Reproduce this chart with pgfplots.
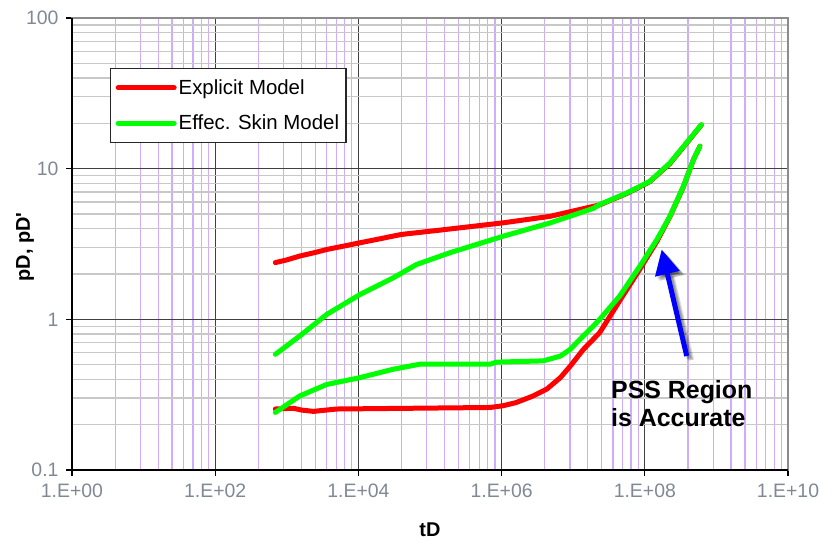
\documentclass[border=0pt]{standalone}
\usepackage{pgfplots}
\pgfplotsset{compat=1.18}
\usepackage{fontspec}
\setmainfont{Liberation Sans}
\usetikzlibrary{arrows.meta}

\definecolor{lavgrid}{RGB}{208,172,255}
\definecolor{ticktext}{RGB}{128,136,150}
\definecolor{lightgrid}{RGB}{200,200,200}
\definecolor{pssblue}{RGB}{0,0,255}

\tikzset{
  pssarrow/.style={line width=5bp, -{Triangle[width=24bp,length=25bp]}},
  psstext/.style={anchor=north west, align=left, inner sep=0pt,
    font=\bfseries\fontsize{25}{28}\selectfont},
  softshadow/.style={black, opacity=0.12},
}

\begin{document}
\begin{tikzpicture}
\begin{axis}[
  scale only axis, width=716bp, height=452bp,
  xmode=log, ymode=log,
  xmin=1, xmax=1e10, ymin=0.1, ymax=100,
  clip=false,
  xtick={1,1e2,1e4,1e6,1e8,1e10},
  xticklabels={1.E+00,1.E+02,1.E+04,1.E+06,1.E+08,1.E+10},
  ytick={0.1,1,10,100},
  yticklabels={0.1,1,10,100},
  minor xtick={4,9,16,25,36,49,64,81,
    400,900,1600,2500,3600,4900,6400,8100,
    4e4,9e4,1.6e5,2.5e5,3.6e5,4.9e5,6.4e5,8.1e5,
    4e6,9e6,1.6e7,2.5e7,3.6e7,4.9e7,6.4e7,8.1e7,
    4e8,9e8,1.6e9,2.5e9,3.6e9,4.9e9,6.4e9,8.1e9},
  minor ytick={0.2,0.3,0.4,0.5,0.6,0.7,0.8,0.9,
    2,3,4,5,6,7,8,9,20,30,40,50,60,70,80,90},
  grid=both,
  major grid style={black!75, line width=1.2bp},
  minor x grid style={lavgrid, line width=1.2bp},
  minor y grid style={lightgrid, line width=1.3bp},
  axis line style={black!45, line width=2bp},
  tick align=outside, xtick pos=left, ytick pos=left,
  major tick length=6bp, minor tick length=0bp,
  tick style={black, line width=1.3bp},
  ticklabel style={font=\fontsize{19.5}{20}\selectfont, text=ticktext},
  xticklabel style={yshift=-4bp},
  yticklabel style={xshift=-4bp},
  xlabel={tD}, ylabel={pD, pD\textquotesingle},
  xlabel style={font=\bfseries\fontsize{20}{22}\selectfont,
    at={(axis description cs:0.5,-0.1327)}, anchor=center},
  ylabel style={font=\bfseries\fontsize{20}{22}\selectfont,
    at={(axis description cs:-0.0656,0.494)}, anchor=center},
  legend cell align=left,
  legend style={at={(axis description cs:0.0531,0.8894)}, anchor=north west,
    draw=black!85, line width=1.3bp, fill=white,
    font=\fontsize{20.5}{21}\selectfont, text=black,
    inner xsep=5bp, inner ysep=9bp, row sep=15bp},
  legend image code/.code={\draw[#1, line width=5bp, line cap=round]
    (0bp,0bp) -- (56bp,0bp);},
]

% Explicit model: pD
\addplot[red, line width=5bp, line join=round, line cap=round] coordinates {
  (692,2.38) (1000,2.48) (1514,2.63) (2500,2.78) (3631,2.91) (10471,3.22)
  (39811,3.66) (190546,3.98) (1.047e6,4.37) (4.786e6,4.83) (2.344e7,5.75)
  (5.623e7,6.85) (1.175e8,8.2) (2.239e8,10.8) (3.802e8,14.7) (6.166e8,19.5)
};
\addlegendentry{Explicit Model}
% Explicit model: pD'
\addplot[red, line width=5bp, line join=round, line cap=round, forget plot] coordinates {
  (692,0.254) (1230,0.257) (1600,0.250) (2344,0.245) (5012,0.254)
  (6.918e5,0.260) (1.047e6,0.267) (1.585e6,0.280) (2.754e6,0.310)
  (4.266e6,0.344) (6.607e6,0.41) (9.12e6,0.49) (1.38e7,0.63) (2.344e7,0.816)
  (4.467e7,1.33) (8.511e7,2.15) (1.479e8,3.3) (2.239e8,4.8) (3.467e8,7.6)
  (4.786e8,11.5) (5.888e8,14.1)
};
% Effective skin model: pD
\addplot[green, line width=5bp, line join=round, line cap=round] coordinates {
  (692,0.586) (1514,0.775) (3631,1.08) (10471,1.46) (30903,1.89) (64565,2.31)
  (190546,2.77) (1.047e6,3.56) (4.786e6,4.37) (6.607e6,4.6) (1.905e7,5.45)
  (2.344e7,5.78) (5.623e7,6.9) (1.175e8,8.24) (2.239e8,10.9) (3.802e8,14.8)
  (6.166e8,19.6)
};
\addlegendentry{Effec. Skin Model}
% Effective skin model: pD'
\addplot[green, line width=5bp, line join=round, line cap=round, forget plot] coordinates {
  (692,0.241) (1514,0.31) (3631,0.37) (10471,0.41) (30903,0.467) (72443,0.504)
  (190546,0.504) (6.918e5,0.504) (8.511e5,0.52) (3.802e6,0.53) (6.607e6,0.57)
  (9.12e6,0.633) (1.38e7,0.775) (1.905e7,0.90) (2.344e7,1.0) (4.467e7,1.43)
  (8.511e7,2.25) (1.479e8,3.39) (2.239e8,4.83) (3.467e8,7.64) (4.786e8,11.5)
  (5.888e8,14.1)
};

% left and bottom axis lines in black
\draw[black, line width=1.6bp] (rel axis cs:0,1) -- (rel axis cs:0,0) -- (rel axis cs:1,0);

% annotation arrow with a soft drop shadow
\draw[softshadow, pssarrow, shift={(2bp,-2bp)}] (axis cs:3.85e8,0.571) -- (axis cs:1.72e8,2.91);
\draw[softshadow, pssarrow, shift={(3bp,-3bp)}] (axis cs:3.85e8,0.571) -- (axis cs:1.72e8,2.91);
\draw[softshadow, pssarrow, shift={(4bp,-4bp)}] (axis cs:3.85e8,0.571) -- (axis cs:1.72e8,2.91);
\draw[softshadow, pssarrow, shift={(5bp,-4bp)}] (axis cs:3.85e8,0.571) -- (axis cs:1.72e8,2.91);
\draw[pssblue, pssarrow] (axis cs:3.85e8,0.571) -- (axis cs:1.72e8,2.91);
\node[psstext] at (axis cs:3.37e7,0.394) {PSS Region\\is Accurate};
\end{axis}
\pgfresetboundingbox
\path[use as bounding box] (-72bp,-71bp) rectangle (764bp,470bp);
\end{tikzpicture}
\end{document}
